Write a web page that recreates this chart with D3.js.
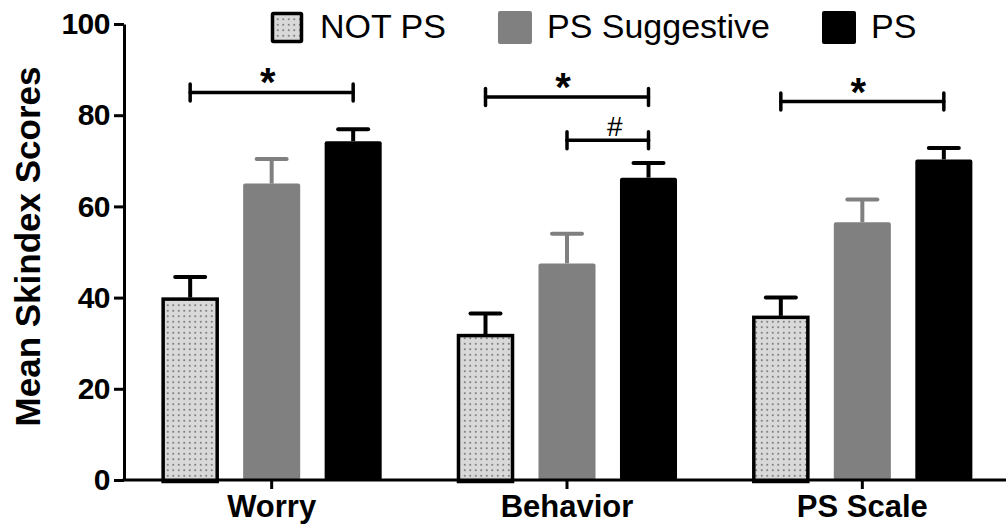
<!DOCTYPE html>
<html>
<head>
<meta charset="utf-8">
<script src="https://cdn.jsdelivr.net/npm/d3@7"></script>
<style>
  html, body { margin: 0; padding: 0; background: #fff; }
  svg { display: block; font-family: "Liberation Sans", Arial, Helvetica, sans-serif; }
</style>
</head>
<body>
<svg id="chart" width="1006" height="529"></svg>
<script>
// ---- Data ----
const categories = ["Worry", "Behavior", "PS Scale"];
const seriesNames = ["NOT PS", "PS Suggestive", "PS"];
const notPS = [40, 32, 36];
const psSuggestive = [65, 47.5, 56.5];
const ps = [74.3, 66.3, 70.3];
const notPSErr = [4.5, 4.5, 4];
const psSuggestiveErr = [5.4, 6.5, 5];
const psErr = [2.6, 3.2, 2.5];
const yTicks = [0, 20, 40, 60, 80, 100];
const yTitle = "Mean Skindex Scores";
const brackets = [
  { cat: "Worry", from: "NOT PS", to: "PS", y: 85, label: "*" },
  { cat: "Behavior", from: "NOT PS", to: "PS", y: 84, label: "*" },
  { cat: "Behavior", from: "PS Suggestive", to: "PS", y: 74.5, label: "#" },
  { cat: "PS Scale", from: "NOT PS", to: "PS", y: 83, label: "*" }
];

(function () {
const seriesValues = [notPS, psSuggestive, ps];
const seriesErrors = [notPSErr, psSuggestiveErr, psErr];
const fills = ["url(#dots)", "#808080", "#000000"];
const errColors = ["#000", "#808080", "#000"];

const rows = [];
categories.forEach((c, ci) => {
  seriesNames.forEach((s, si) => {
    rows.push({ cat: c, series: s, si, value: seriesValues[si][ci], err: seriesErrors[si][ci] });
  });
});

// ---- Layout ----
const svg = d3.select("#chart");
const mLeft = 124, mRight = 1010, mTop = 24, mBottom = 480;

const defs = svg.append("defs");
const pat = defs.append("pattern").attr("id", "dots")
  .attr("patternUnits", "userSpaceOnUse").attr("width", 5.5).attr("height", 5.5);
pat.append("rect").attr("width", 5.5).attr("height", 5.5).attr("fill", "#d9d9d9");
pat.append("rect").attr("x", 2).attr("y", 2).attr("width", 1.5).attr("height", 1.5).attr("fill", "#555");

const x0 = d3.scaleBand().domain(categories).range([mLeft, mRight]).padding(0);
const half = 122.25;
const x1 = d3.scaleBand().domain(seriesNames)
  .range([x0.bandwidth() / 2 - half, x0.bandwidth() / 2 + half])
  .paddingInner(0.3).paddingOuter(0.15);
const y = d3.scaleLinear().domain([0, 100]).range([mBottom, mTop]);

// ---- Bars ----
const g = svg.append("g");
rows.forEach(d => {
  const bx = x0(d.cat) + x1(d.series);
  const bw = x1.bandwidth();
  const cx = bx + bw / 2;
  const errTop = y(d.value + d.err);
  g.append("line").attr("x1", cx).attr("x2", cx)
    .attr("y1", y(d.value)).attr("y2", errTop)
    .attr("stroke", errColors[d.si]).attr("stroke-width", 4);
  g.append("line").attr("x1", cx - 15).attr("x2", cx + 15)
    .attr("y1", errTop).attr("y2", errTop)
    .attr("stroke", errColors[d.si]).attr("stroke-width", 4).attr("stroke-linecap", "round");
  if (d.si === 0) {
    g.append("rect").attr("x", bx + 1.5).attr("y", y(d.value) + 1.5)
      .attr("width", bw - 3).attr("height", y(0) - y(d.value))
      .attr("fill", fills[0]).attr("stroke", "#000").attr("stroke-width", 3.5);
  } else {
    g.append("rect").attr("x", bx).attr("y", y(d.value))
      .attr("width", bw).attr("height", y(0) - y(d.value))
      .attr("rx", 2)
      .attr("fill", fills[d.si]);
  }
});

// ---- Axes ----
const yAxis = svg.append("g").attr("transform", `translate(${mLeft},0)`)
  .call(d3.axisLeft(y).tickValues(yTicks).tickSize(10).tickSizeOuter(0).tickPadding(4));
yAxis.selectAll("path, line").attr("stroke", "#000").attr("stroke-width", 3);
yAxis.selectAll("text").attr("font-size", 30).attr("font-weight", "bold").attr("fill", "#000")
  .attr("letter-spacing", -0.5);

const xAxis = svg.append("g").attr("transform", `translate(0,${mBottom})`)
  .call(d3.axisBottom(x0).tickSize(9).tickSizeOuter(0).tickPadding(6));
xAxis.selectAll("path, line").attr("stroke", "#000").attr("stroke-width", 3);
xAxis.select("path").attr("d", `M${mLeft - 1.5},0H${mRight}`);
xAxis.selectAll("text").attr("font-size", 31).attr("font-weight", "bold").attr("fill", "#000");

svg.append("text")
  .attr("transform", `translate(40,${(65 + 428) / 2}) rotate(-90)`)
  .attr("text-anchor", "middle").attr("font-size", 35).attr("font-weight", "bold")
  .text(yTitle);

// ---- Significance brackets ----
brackets.forEach(b => {
  const xa = x0(b.cat) + x1(b.from) + x1.bandwidth() / 2;
  const xb = x0(b.cat) + x1(b.to) + x1.bandwidth() / 2;
  const yy = y(b.y);
  const bg = svg.append("g").attr("stroke", "#000").attr("stroke-width", 3.5).attr("stroke-linecap", "round");
  bg.append("line").attr("x1", xa).attr("x2", xb).attr("y1", yy).attr("y2", yy);
  bg.append("line").attr("x1", xa).attr("x2", xa).attr("y1", yy - 8.5).attr("y2", yy + 8.5);
  bg.append("line").attr("x1", xb).attr("x2", xb).attr("y1", yy - 8.5).attr("y2", yy + 8.5);
  if (b.label === "*") {
    svg.append("text").attr("x", (xa + xb) / 2 - 4).attr("y", yy + 4)
      .attr("text-anchor", "middle").attr("font-size", 40).attr("font-weight", "bold")
      .text(b.label);
  } else {
    svg.append("text").attr("x", (xa + xb) / 2 + 7).attr("y", yy - 4)
      .attr("text-anchor", "middle").attr("font-size", 28)
      .text(b.label);
  }
});

// ---- Legend ----
let lx = 271;
seriesNames.forEach((s, i) => {
  if (i === 0) {
    svg.append("rect").attr("x", lx + 1.5).attr("y", 13.5).attr("width", 29).attr("height", 28)
      .attr("fill", fills[0]).attr("stroke", "#000").attr("stroke-width", 3.5).attr("rx", 1);
  } else {
    svg.append("rect").attr("x", lx).attr("y", 11).attr("width", 34).attr("height", 33)
      .attr("rx", 2).attr("fill", fills[i]);
  }
  const t = svg.append("text").attr("x", lx + 49).attr("y", 38)
    .attr("font-size", 34).attr("fill", "#000").text(s);
  lx = lx + 49 + t.node().getComputedTextLength() + 52;
});
})();
</script>
</body>
</html>
